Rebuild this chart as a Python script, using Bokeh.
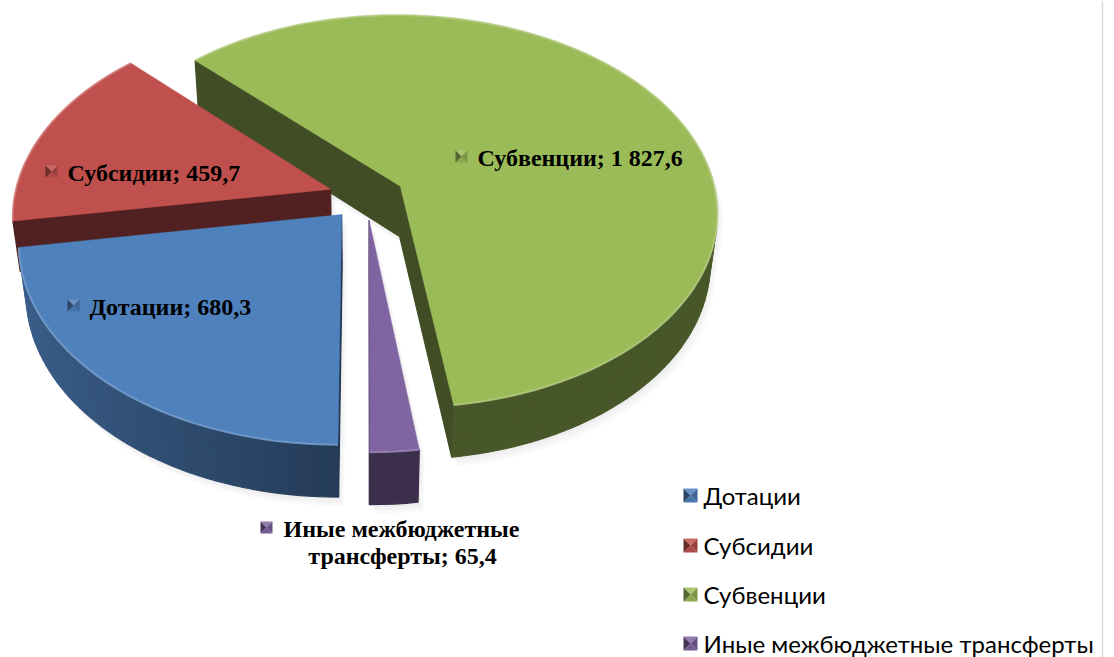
import numpy as np
from bokeh.plotting import figure
from bokeh.models import Range1d
from bokeh.embed import file_html
from bokeh.resources import INLINE
from bokeh.core.properties import value

# ---------------- data ----------------
categories = ["Дотации", "Субсидии", "Субвенции", "Иные межбюджетные трансферты"]
values = [680.3, 459.7, 1827.6, 65.4]
value_labels = ["680,3", "459,7", "1 827,6", "65,4"]
colors = ["#4f81bd", "#c0504d", "#9bbb59", "#8064a2"]

# ---------------- layout / style ----------------
W, H = 1114, 657
p = figure(width=W, height=H, x_range=Range1d(0, W), y_range=Range1d(H, 0),
           output_backend="svg", toolbar_location=None,
           x_axis_location=None, y_axis_location=None, min_border=0)
p.outline_line_color = None
p.grid.visible = False
p.background_fill_color = "white"

CX, CY = 366.0, 196.0
F = 1931.0
DIST = 6.11
PHI = np.radians(38.2)
THICK = 0.207
EXPLODE = 0.12
START = np.pi
CAM = np.array([0.0, -DIST * np.cos(PHI), DIST * np.sin(PHI)])


def proj(u, v, z):
    u = np.asarray(u, float); v = np.asarray(v, float); z = np.asarray(z, float)
    d = DIST + v * np.cos(PHI) - z * np.sin(PHI)
    return CX + F * u / d, CY - F * (v * np.sin(PHI) + z * np.cos(PHI)) / d


def depth(u, v, z):
    return DIST + v * np.cos(PHI) - z * np.sin(PHI)


def shade(hexc, k):
    h = hexc.lstrip("#")
    r, g, b = (int(h[i:i + 2], 16) for i in (0, 2, 4))
    if k <= 1:
        r, g, b = r * k, g * k, b * k
    else:
        t = k - 1
        r, g, b = r + (255 - r) * t, g + (255 - g) * t, b + (255 - b) * t
    return "#%02x%02x%02x" % (int(max(0, min(255, r))), int(max(0, min(255, g))), int(max(0, min(255, b))))


def visible(n, P):
    return np.dot(n, CAM - P) > 0


total = float(sum(values))
fracs = [v / total for v in values]
cum = np.concatenate([[0.0], np.cumsum(fracs)])

slices = []
for i, fr in enumerate(fracs):
    a0 = START + 2 * np.pi * cum[i]
    a1 = START + 2 * np.pi * cum[i + 1]
    mid = 0.5 * (a0 + a1)
    ou, ov = EXPLODE * np.sin(mid), EXPLODE * np.cos(mid)
    n = max(4, int(np.degrees(a1 - a0) / 1.5))
    th = np.linspace(a0, a1, n)
    ru, rv = ou + np.sin(th), ov + np.cos(th)
    faces = []
    # outer wall
    for j in range(n - 1):
        tm = 0.5 * (th[j] + th[j + 1])
        P = np.array([ou + np.sin(tm), ov + np.cos(tm), -THICK / 2])
        nv = np.array([np.sin(tm), np.cos(tm), 0.0])
        if visible(nv, P):
            uu = [ru[j], ru[j + 1], ru[j + 1], ru[j]]
            vv = [rv[j], rv[j + 1], rv[j + 1], rv[j]]
            zz = [0, 0, -THICK, -THICK]
            x, y = proj(uu, vv, zz)
            k = 0.47 + 0.27 * max(0.0, -np.sin(tm))
            faces.append((depth(*P), list(x), list(y), shade(colors[i], k)))
    # radial faces
    for a, off in ((a0, -np.pi / 2), (a1, np.pi / 2)):
        nv = np.array([np.sin(a + off), np.cos(a + off), 0.0])
        P = np.array([ou + 0.5 * np.sin(a), ov + 0.5 * np.cos(a), -THICK / 2])
        if visible(nv, P):
            uu = [ou, ou + np.sin(a), ou + np.sin(a), ou]
            vv = [ov, ov + np.cos(a), ov + np.cos(a), ov]
            zz = [0, 0, -THICK, -THICK]
            x, y = proj(uu, vv, zz)
            faces.append((depth(*P), list(x), list(y), shade(colors[i], 0.42)))
    faces.sort(key=lambda f: -f[0])
    tx, ty = proj(np.concatenate([[ou], ru]), np.concatenate([[ov], rv]), np.zeros(n + 1))
    rx, ry = proj(ru, rv, np.zeros(n))
    slices.append(dict(order=-np.cos(mid), faces=faces, top=(list(tx), list(ty)), rim=(list(rx), list(ry)),
                       color=colors[i]))

slices.sort(key=lambda s: s["order"])

# soft shadow
for s in slices:
    allx, ally = [], []
    for _, x, y, _c in s["faces"]:
        allx.append(x); ally.append(y)
    allx.append(s["top"][0]); ally.append(s["top"][1])
    for off in (3, 6, 9):
        p.patches([[xx + off * 0.6 for xx in x] for x in allx], [[yy + off for yy in y] for y in ally],
                  fill_color="#000000", fill_alpha=0.025, line_color=None)

for s in slices:
    fx = [f[1] for f in s["faces"]]
    fy = [f[2] for f in s["faces"]]
    fc = [f[3] for f in s["faces"]]
    if fx:
        p.patches(fx, fy, fill_color=fc, line_color=fc, line_width=1.2)
    p.patch(s["top"][0], s["top"][1], fill_color=s["color"], line_color=s["color"], line_width=0.5)
    p.line(s["rim"][0], s["rim"][1], line_color=shade(s["color"], 1.25), line_width=2, line_alpha=0.8)


def icon(x0, yc, size, c):
    x1, y0, y1 = x0 + size, yc - size / 2, yc + size / 2
    xm, ym = x0 + size / 2, yc
    p.patches([[x0, x1, xm], [x0, x1, xm], [x0, x0, xm], [x1, x1, xm]],
              [[y0, y0, ym], [y1, y1, ym], [y0, y1, ym], [y0, y1, ym]],
              fill_color=[shade(c, 1.15), shade(c, 0.9), shade(c, 0.55), shade(c, 0.8)],
              line_color=None)


# data labels
LBL_FONT = value("Liberation Serif")
lbl_pos = {0: (67, 305), 1: (45, 171), 2: (455, 156)}
for i, (x0, yc) in lbl_pos.items():
    icon(x0, yc, 12, colors[i])
    p.text(x=[x0 + 22], y=[yc + 1], text=[f"{categories[i]}; {value_labels[i]}"],
           text_font=LBL_FONT, text_font_style="bold", text_font_size="24px",
           text_align="left", text_baseline="middle", text_color="#000000")
icon(260, 527, 12, colors[3])
words = categories[3].split(" ")
p.text(x=[401, 402], y=[528, 555],
       text=[" ".join(words[:2]), f"{words[2]}; {value_labels[3]}"],
       text_font=LBL_FONT, text_font_style="bold", text_font_size="24px",
       text_align="center", text_baseline="middle", text_color="#000000")

# legend
leg_y = [495, 545, 594, 643]
for i, c in enumerate(categories):
    icon(683, leg_y[i], 14, colors[i])
    p.text(x=[703], y=[leg_y[i]], text=[c], text_font=value("Lato"), text_font_size="24px",
           text_align="left", text_baseline="middle", text_color="#000000")

# chart border line at right
p.segment(x0=[1102], y0=[0], x1=[1102], y1=[657], line_color="#d9d9d9", line_width=1.5)

open("out.html", "w").write(file_html(p, INLINE))
